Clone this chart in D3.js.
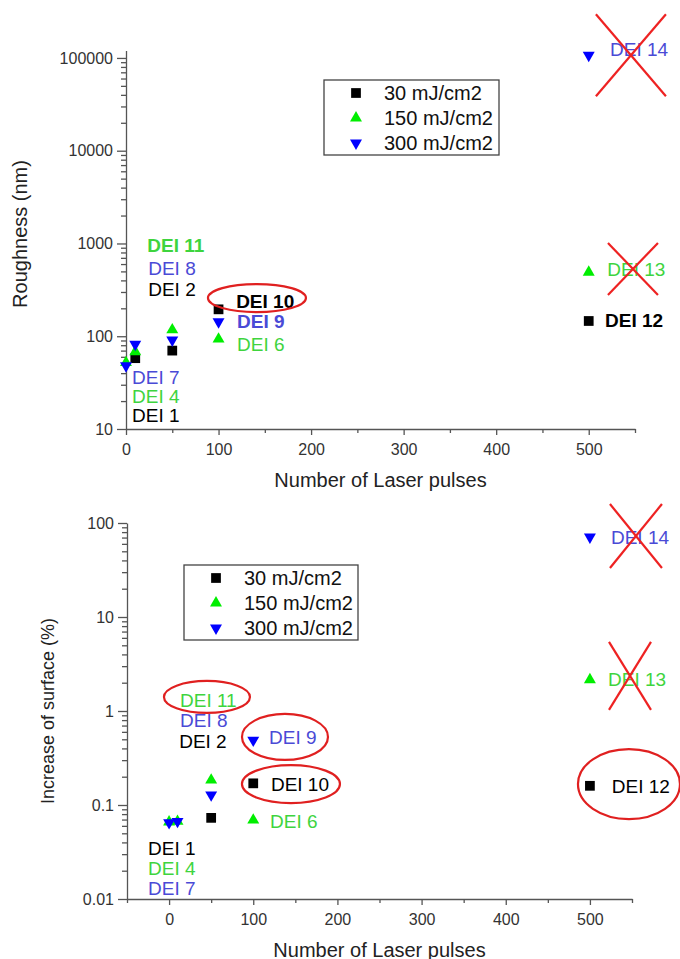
<!DOCTYPE html>
<html>
    <head>
        <script src="https://cdn.jsdelivr.net/npm/d3@7"></script>
    </head>
    <style>
        body { margin: 0; background: #fff; }
        text { font-family: 'Liberation Sans', Arial, sans-serif; }
    </style>
    <body>
        <div id="canvas"></div>
        <script>
            // shared x values (number of laser pulses)
            var pulses = [0, 10, 50, 100, 500];
            var seriesNames = ['30 mJ/cm2', '150 mJ/cm2', '300 mJ/cm2'];

            // top panel: roughness (nm)
            var rough30  = [null, 58, 70, 195, 146];
            var rough150 = [52, 68, 117, 93, 490];
            var rough300 = [48, 82, 91, 143, 107000];
            var roughTicks = [10, 100, 1000, 10000, 100000];

            // bottom panel: increase of surface (%)
            var surf30  = [null, null, 0.073, 0.17, 0.16];
            var surf150 = [0.066, 0.067, 0.184, 0.069, 2.15];
            var surf300 = [0.065, 0.067, 0.128, 0.49, 71];
            var surfTicks = [0.01, 0.1, 1, 10, 100];

            var xTicks = [0, 100, 200, 300, 400, 500];

            // sample labels [text, pulses, value, series, bold]
            var roughLabels = [
                ['DEI 11', 23, 964, 1, true], ['DEI 8', 24, 544, 2, false], ['DEI 2', 24, 323, 0, false],
                ['DEI 10', 119, 240, 0, true], ['DEI 9', 120, 146, 2, true], ['DEI 6', 120, 82, 1, false],
                ['DEI 7', 6.5, 36.4, 2, false], ['DEI 4', 6.5, 22.7, 1, false], ['DEI 1', 6.5, 14.2, 0, false],
                ['DEI 14', 523, 125000, 2, false], ['DEI 13', 520, 531, 1, false], ['DEI 12', 517.6, 150, 0, true]
            ];
            var surfLabels = [
                ['DEI 11', 13, 1.31, 1, false], ['DEI 8', 13, 0.80, 2, false], ['DEI 2', 12, 0.48, 0, false],
                ['DEI 9', 118.7, 0.53, 2, false], ['DEI 10', 121, 0.167, 0, false], ['DEI 6', 120, 0.0676, 1, false],
                ['DEI 1', -25, 0.0349, 0, false], ['DEI 4', -25, 0.0214, 1, false], ['DEI 7', -25, 0.0131, 2, false],
                ['DEI 14', 525, 71, 2, false], ['DEI 13', 521.5, 2.19, 1, false], ['DEI 12', 526, 0.159, 0, false]
            ];

            // red ellipses [pulses, value] and crosses [pulses, value]
            var roughCircles = [[141.5, 258]];
            var roughCrosses = [[545.6, 107000], [547.8, 531]];
            var surfCircles = [[45, 1.41], [137.7, 0.53], [144.8, 0.167], [546.4, 0.167]];
            var surfCrosses = [[554.7, 72.7], [547.6, 2.36]];

            const W = 680, H = 959;
            const markColors = ['#000000', '#00ee00', '#0000ff'];
            const textColors = ['#000000', '#3ed43e', '#4a4ad6'];

            const svg = d3.select('#canvas')
                .append('svg')
                .attr('width', W)
                .attr('height', H);

            var symbolPath = function(i) {
                if (i === 0) return d3.symbol(d3.symbolSquare, 95)();
                return d3.symbol(d3.symbolTriangle, 62)();
            };

            var drawPanel = function(p) {
                let x = d3.scaleLinear().domain(p.xDomain).range(p.xRange);
                let y = d3.scaleLog().domain(p.yDomain).range(p.yRange);
                let g = svg.append('g');

                // y axis with minor log ticks
                let minor = [];
                for (let e = Math.log10(p.yTicks[0]); e < Math.log10(p.yTicks[p.yTicks.length - 1]) + 1; e++) {
                    for (let k = 2; k <= 9; k++) {
                        let v = k * Math.pow(10, e);
                        if (v <= p.yDomain[1]) minor.push(v);
                    }
                }
                g.append('g')
                    .attr('transform', `translate(${p.xRange[0]},0)`)
                    .call(d3.axisLeft(y).tickValues(p.yTicks).tickFormat(d => p.yFmt(d)).tickSize(9).tickPadding(4).tickSizeOuter(0));
                g.append('g')
                    .attr('transform', `translate(${p.xRange[0]},0)`)
                    .call(d3.axisLeft(y).tickValues(minor).tickFormat('').tickSize(5).tickSizeOuter(0))
                    .select('.domain').remove();

                g.append('g')
                    .attr('transform', `translate(0,${p.yRange[0]})`)
                    .call(d3.axisBottom(x).tickValues(xTicks).tickSize(6).tickSizeOuter(0).tickPadding(9));
                g.append('g')
                    .attr('transform', `translate(0,${p.yRange[0]})`)
                    .call(d3.axisBottom(x).tickValues(p.xMinor).tickFormat('').tickSize(4).tickSizeOuter(0))
                    .select('.domain').remove();

                g.selectAll('.domain, .tick line').attr('stroke', '#555').attr('stroke-width', 1.3);
                g.selectAll('.tick text')
                    .attr('fill', '#333')
                    .attr('font-size', '16px')
                    .attr('font-family', "'Liberation Sans', Arial, sans-serif");

                // axis titles
                g.append('text')
                    .attr('x', (p.xRange[0] + p.xRange[1]) / 2 - 0)
                    .attr('y', p.xTitleY)
                    .attr('text-anchor', 'middle')
                    .attr('font-size', '20px')
                    .attr('fill', '#222')
                    .text('Number of Laser pulses');
                g.append('text')
                    .attr('transform', `translate(${p.yTitleX},${p.yTitleY}) rotate(-90)`)
                    .attr('text-anchor', 'middle')
                    .attr('font-size', p.yTitleSize)
                    .attr('fill', '#222')
                    .text(p.yTitle);

                // points
                p.series.forEach((vals, i) => {
                    let pts = pulses.map((d, j) => [d, vals[j]]).filter(d => d[1] !== null);
                    g.selectAll(null)
                        .data(pts)
                        .enter()
                        .append('path')
                        .attr('d', symbolPath(i))
                        .attr('transform', d => `translate(${x(d[0])},${y(d[1])})` + (i === 2 ? ' rotate(180)' : ''))
                        .attr('fill', markColors[i]);
                });

                // sample labels
                g.selectAll(null)
                    .data(p.labels)
                    .enter()
                    .append('text')
                    .attr('x', d => x(d[1]))
                    .attr('y', d => y(d[2]))
                    .attr('dy', '0.36em')
                    .attr('font-size', '19px')
                    .attr('font-weight', d => d[4] ? 'bold' : 'normal')
                    .attr('fill', d => textColors[d[3]])
                    .text(d => d[0]);

                // legend
                let lg = g.append('g').attr('transform', `translate(${p.legend[0]},${p.legend[1]})`);
                lg.append('rect')
                    .attr('width', p.legend[2]).attr('height', 75)
                    .attr('fill', 'none').attr('stroke', '#444').attr('stroke-width', 1.3);
                seriesNames.forEach((name, i) => {
                    lg.append('path')
                        .attr('d', symbolPath(i))
                        .attr('transform', `translate(32,${13 + i * 25})` + (i === 2 ? ' rotate(180)' : ''))
                        .attr('fill', markColors[i]);
                    lg.append('text')
                        .attr('x', 60)
                        .attr('y', 13 + i * 25)
                        .attr('dy', '0.36em')
                        .attr('font-size', '20px')
                        .attr('fill', '#111')
                        .text(name);
                });

                // red annotations
                g.selectAll(null)
                    .data(p.circles)
                    .enter()
                    .append('ellipse')
                    .attr('cx', d => x(d[0]))
                    .attr('cy', d => y(d[1]))
                    .attr('rx', (d, i) => p.circleSize[i][0])
                    .attr('ry', (d, i) => p.circleSize[i][1])
                    .attr('fill', 'none')
                    .attr('stroke', '#e02020')
                    .attr('stroke-width', 2.2);
                p.crosses.forEach((d, i) => {
                    let cx = x(d[0]), cy = y(d[1]);
                    let hw = p.crossSize[i][0], hh = p.crossSize[i][1];
                    g.append('line')
                        .attr('x1', cx - hw).attr('y1', cy - hh).attr('x2', cx + hw).attr('y2', cy + hh)
                        .attr('stroke', '#ee2222').attr('stroke-width', 2.2);
                    g.append('line')
                        .attr('x1', cx + hw).attr('y1', cy - hh).attr('x2', cx - hw).attr('y2', cy + hh)
                        .attr('stroke', '#ee2222').attr('stroke-width', 2.2);
                });
            };

            window.onload = function() {
                drawPanel({
                    xDomain: [0, 550], xRange: [126, 635], xMinor: [50, 150, 250, 350, 450, 550],
                    yDomain: [10, 120000], yRange: [429, 50.6], yTicks: roughTicks, yFmt: d3.format('d'),
                    series: [rough30, rough150, rough300], labels: roughLabels,
                    yTitle: 'Roughness (nm)', yTitleX: 27, yTitleY: 234, yTitleSize: '20px', xTitleY: 487,
                    legend: [324, 80, 175],
                    circles: roughCircles, circleSize: [[49, 14]],
                    crosses: roughCrosses, crossSize: [[35, 41], [25, 26]]
                });
                drawPanel({
                    xDomain: [-50, 550], xRange: [127, 632], xMinor: [-50, 50, 150, 250, 350, 450, 550],
                    yDomain: [0.01, 100], yRange: [899, 523], yTicks: surfTicks, yFmt: d => String(d),
                    series: [surf30, surf150, surf300], labels: surfLabels,
                    yTitle: 'Increase of surface (%)', yTitleX: 54, yTitleY: 711, yTitleSize: '18px', xTitleY: 957,
                    legend: [184, 565, 174],
                    circles: surfCircles, circleSize: [[43, 16], [43, 23], [49, 19], [51, 35]],
                    crosses: surfCrosses, crossSize: [[26, 32], [21, 34]]
                });
            };
        </script>
    </body>
</html>
